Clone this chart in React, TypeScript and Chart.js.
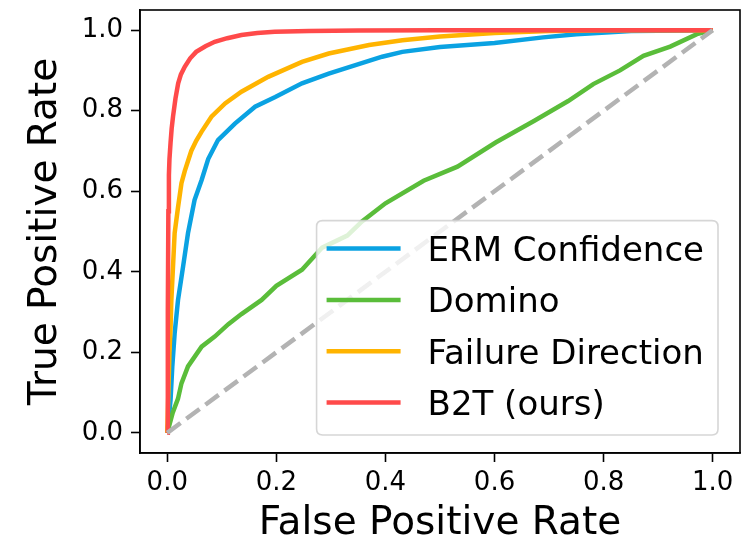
import React, { useEffect, useRef } from "react";
import { Chart, registerables } from "chart.js";

Chart.register(...registerables);

// ---- Data ----
const tickValues = [0, 0.2, 0.4, 0.6, 0.8, 1.0];

const seriesLabels = ["ERM Confidence", "Domino", "Failure Direction", "B2T (ours)"];
const seriesColors = ["#0aa2e2", "#5abd3a", "#ffb400", "#ff4a4a"];

const ermFpr = [0, 0.003, 0.006, 0.0092, 0.0135, 0.0197, 0.029, 0.038, 0.05, 0.063, 0.075, 0.093, 0.124, 0.161, 0.198, 0.247, 0.296, 0.345, 0.394, 0.431, 0.5, 0.6, 0.689, 0.75, 0.85, 1.0];
const ermTpr = [0, 0.04, 0.082, 0.165, 0.247, 0.33, 0.413, 0.496, 0.578, 0.628, 0.68, 0.727, 0.768, 0.81, 0.834, 0.868, 0.892, 0.913, 0.934, 0.946, 0.958, 0.968, 0.982, 0.99, 0.998, 1.0];

const dominoFpr = [0, 0.01, 0.0197, 0.026, 0.038, 0.063, 0.087, 0.112, 0.136, 0.173, 0.2, 0.247, 0.284, 0.33, 0.357, 0.4, 0.47, 0.532, 0.602, 0.673, 0.735, 0.781, 0.83, 0.873, 0.922, 0.971, 1.0];
const dominoTpr = [0, 0.05, 0.085, 0.123, 0.165, 0.214, 0.239, 0.27, 0.295, 0.33, 0.365, 0.405, 0.46, 0.49, 0.525, 0.57, 0.626, 0.661, 0.721, 0.775, 0.824, 0.866, 0.9, 0.936, 0.959, 0.99, 1.0];

const failureFpr = [0, 0.002, 0.004, 0.006, 0.0075, 0.0105, 0.0135, 0.0197, 0.026, 0.032, 0.044, 0.053, 0.063, 0.081, 0.106, 0.136, 0.185, 0.247, 0.296, 0.37, 0.431, 0.5, 0.6, 0.7, 0.8, 1.0];
const failureTpr = [0, 0.1, 0.2, 0.26, 0.33, 0.413, 0.496, 0.56, 0.62, 0.65, 0.7, 0.725, 0.748, 0.785, 0.818, 0.847, 0.884, 0.921, 0.942, 0.963, 0.975, 0.984, 0.993, 0.998, 1.0, 1.0];

const b2tFpr = [0, 0.001, 0.002, 0.003, 0.004, 0.006, 0.008, 0.0105, 0.015, 0.02, 0.025, 0.032, 0.042, 0.053, 0.07, 0.087, 0.11, 0.136, 0.165, 0.197, 0.26, 0.35, 0.5, 0.7, 1.0];
const b2tTpr = [0, 0.3, 0.55, 0.64, 0.68, 0.72, 0.755, 0.785, 0.83, 0.868, 0.89, 0.909, 0.93, 0.946, 0.96, 0.971, 0.98, 0.988, 0.993, 0.996, 0.998, 0.999, 1.0, 1.0, 1.0];

const chanceFpr = [0, 1];
const chanceTpr = [0, 1];

const FONT = "'DejaVu Sans', sans-serif";

function pts(xs: number[], ys: number[]) {
  return xs.map((x, i) => ({ x, y: ys[i] }));
}

const framePlugin = {
  id: "frame",
  afterDatasetsDraw(chart: any) {
    const { ctx, chartArea: a } = chart;
    ctx.save();
    ctx.strokeStyle = "#000";
    ctx.lineWidth = 1.6;
    ctx.strokeRect(a.left, a.top, a.right - a.left, a.bottom - a.top);
    ctx.restore();
  },
};

const legendPlugin = {
  id: "innerLegend",
  afterDraw(chart: any) {
    const { ctx, chartArea: a } = chart;
    const fontSize = 34;
    ctx.save();
    ctx.font = `${fontSize}px ${FONT}`;
    const maxText = Math.max(...seriesLabels.map((l) => ctx.measureText(l).width));
    const padL = 10, handle = 74, gap = 27, padR = 14;
    const rowH = 51.3, padT = 28, padB = 32.5;
    const w = padL + handle + gap + maxText + padR;
    const h = padT + rowH * (seriesLabels.length - 1) + padB;
    const x2 = a.right - 22;
    const y2 = a.bottom - 18;
    const x1 = x2 - w;
    const y1 = y2 - h;
    const r = 6;
    ctx.beginPath();
    ctx.moveTo(x1 + r, y1);
    ctx.lineTo(x2 - r, y1);
    ctx.quadraticCurveTo(x2, y1, x2, y1 + r);
    ctx.lineTo(x2, y2 - r);
    ctx.quadraticCurveTo(x2, y2, x2 - r, y2);
    ctx.lineTo(x1 + r, y2);
    ctx.quadraticCurveTo(x1, y2, x1, y2 - r);
    ctx.lineTo(x1, y1 + r);
    ctx.quadraticCurveTo(x1, y1, x1 + r, y1);
    ctx.closePath();
    ctx.fillStyle = "rgba(255,255,255,0.8)";
    ctx.fill();
    ctx.strokeStyle = "rgba(204,204,204,0.8)";
    ctx.lineWidth = 1.6;
    ctx.stroke();

    seriesLabels.forEach((label, i) => {
      const cy = y1 + padT + i * rowH;
      ctx.beginPath();
      ctx.strokeStyle = seriesColors[i];
      ctx.lineWidth = 4.5;
      ctx.lineCap = "butt";
      ctx.moveTo(x1 + padL, cy);
      ctx.lineTo(x1 + padL + handle, cy);
      ctx.stroke();
      ctx.fillStyle = "#000";
      ctx.textBaseline = "alphabetic";
      ctx.textAlign = "left";
      ctx.fillText(label, x1 + padL + handle + gap, cy + fontSize * 0.729 / 2);
    });
    ctx.restore();
  },
};

function makeScale(axis: "x" | "y") {
  const isX = axis === "x";
  return {
    type: "linear" as const,
    min: -0.05,
    max: 1.05,
    afterBuildTicks(scale: any) {
      scale.ticks = tickValues.map((v) => ({ value: v }));
    },
    afterFit(scale: any) {
      if (isX) scale.height = 92;
      else scale.width = 140;
      scale.paddingLeft = 0;
      scale.paddingRight = 0;
      scale.paddingTop = 0;
      scale.paddingBottom = 0;
    },
    ticks: {
      autoSkip: false,
      maxRotation: 0,
      padding: isX ? 6 : 8,
      color: "#000",
      font: { family: FONT, size: 26 },
      callback: (v: any) => Number(v).toFixed(1),
    },
    grid: {
      drawOnChartArea: false,
      drawTicks: true,
      tickLength: 9,
      tickWidth: 1.6,
      tickColor: "#000",
    },
    border: { display: true, color: "#000", width: 1.6 },
    title: {
      display: true,
      text: isX ? "False Positive Rate" : "True Positive Rate",
      color: "#000",
      font: { family: FONT, size: 39, lineHeight: 1 },
      padding: isX ? { top: 0, bottom: 2 } : { top: 26, bottom: 0 },
    },
  };
}

export default function App() {
  const ref = useRef<HTMLCanvasElement | null>(null);

  useEffect(() => {
    if (!ref.current) return;
    const lineDs = (label: string, xs: number[], ys: number[], color: string, order: number) => ({
      label,
      data: pts(xs, ys),
      showLine: true,
      borderColor: color,
      backgroundColor: color,
      borderWidth: 4.5,
      pointRadius: 0,
      pointHoverRadius: 0,
      tension: 0,
      fill: false,
      order,
    });
    const chart = new Chart(ref.current, {
      type: "scatter",
      data: {
        datasets: [
          { ...lineDs("chance", chanceFpr, chanceTpr, "#b3b3b3", 0), borderDash: [16.5, 7.2], borderCapStyle: "butt" },
          lineDs(seriesLabels[3], b2tFpr, b2tTpr, seriesColors[3], 1),
          lineDs(seriesLabels[2], failureFpr, failureTpr, seriesColors[2], 2),
          lineDs(seriesLabels[1], dominoFpr, dominoTpr, seriesColors[1], 3),
          lineDs(seriesLabels[0], ermFpr, ermTpr, seriesColors[0], 4),
        ] as any,
      },
      options: {
        animation: false,
        responsive: false,
        maintainAspectRatio: false,
        devicePixelRatio: 1,
        layout: { padding: { top: 10, right: 6, left: 0, bottom: 0 } },
        plugins: {
          legend: { display: false },
          tooltip: { enabled: false },
        },
        scales: {
          x: makeScale("x"),
          y: makeScale("y"),
        } as any,
      },
      plugins: [framePlugin, legendPlugin],
    });
    return () => chart.destroy();
  }, []);

  return (
    <div style={{ position: "fixed", left: 0, top: 0, width: 746, height: 545, background: "#fff" }}>
      <canvas ref={ref} width={746} height={545} style={{ width: 746, height: 545, display: "block" }} />
    </div>
  );
}
